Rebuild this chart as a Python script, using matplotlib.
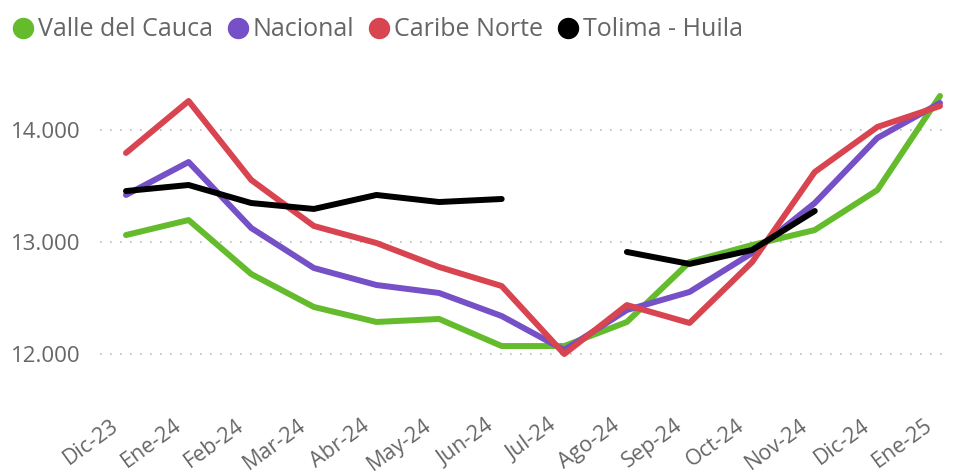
import numpy as np
import matplotlib.pyplot as plt
import matplotlib.transforms as mtransforms
from matplotlib.lines import Line2D

meses = ['Dic-23', 'Ene-24', 'Feb-24', 'Mar-24', 'Abr-24', 'May-24', 'Jun-24',
         'Jul-24', 'Ago-24', 'Sep-24', 'Oct-24', 'Nov-24', 'Dic-24', 'Ene-25']

valle = [13062, 13196, 12714, 12420, 12286, 12313, 12071,
         12071, 12286, 12821, 12973, 13107, 13464, 14304]
nacional = [13420, 13714, 13125, 12768, 12616, 12545, 12339,
            12036, 12393, 12554, 12902, 13348, 13929, 14241]
caribe = [13795, 14259, 13554, 13143, 12991, 12777, 12607,
          12000, 12437, 12277, 12821, 13625, 14027, 14214]
tolima = [13455, 13509, 13348, 13295, 13420, 13357, 13384,
          np.nan, 12911, 12804, 12929, 13277, np.nan, np.nan]

series = ['Valle del Cauca', 'Nacional', 'Caribe Norte', 'Tolima - Huila']
colores = ['#64BB2C', '#7650C6', '#D8444F', '#000000']

plt.rcParams['font.family'] = ['Open Sans', 'DejaVu Sans']
gris = '#666666'

fig = plt.figure(figsize=(9.54, 4.76), dpi=100)
ax = fig.add_axes([100 / 954, 1 - 395 / 476, 850 / 954, 335 / 476])

x = np.arange(len(meses))
for datos, color in zip([valle, nacional, caribe, tolima], colores):
    ax.plot(x, datos, color=color, lw=4.3, solid_capstyle='round', solid_joinstyle='round')

ax.set_xlim(-0.415, 13.16)
ax.set_ylim(11634, 14625)
ax.set_yticks([12000, 13000, 14000])
ax.set_yticklabels(['12.000', '13.000', '14.000'])
ax.set_xticks(x)
ax.set_xticklabels(meses, rotation=36, ha='right', rotation_mode='anchor')
ax.tick_params(axis='both', length=0, colors=gris, labelsize=16)
ax.tick_params(axis='x', labelsize=15.5, pad=14.5)
ax.tick_params(axis='y', pad=14)
# mover un poco las etiquetas del eje x a la izquierda
desplaza = mtransforms.ScaledTranslation(-16 / 100, 0, fig.dpi_scale_trans)
for lab in ax.get_xticklabels():
    lab.set_transform(lab.get_transform() + desplaza)
ax.grid(axis='y', color='#BBBBBB', linestyle=(0, (1, 5)), lw=1.2)
for s in ax.spines.values():
    s.set_visible(False)

handles = [Line2D([], [], marker='o', color=c, ls='none', markersize=14.4) for c in colores]
fig.legend(handles, series, loc='upper left', bbox_to_anchor=(0.0, 0.99), ncol=4,
           frameon=False, fontsize=18, handletextpad=0.2, columnspacing=0.6,
           handlelength=0.8, labelcolor=gris, borderaxespad=0.2, borderpad=0.3)

fig.savefig('out.png', dpi=100)
